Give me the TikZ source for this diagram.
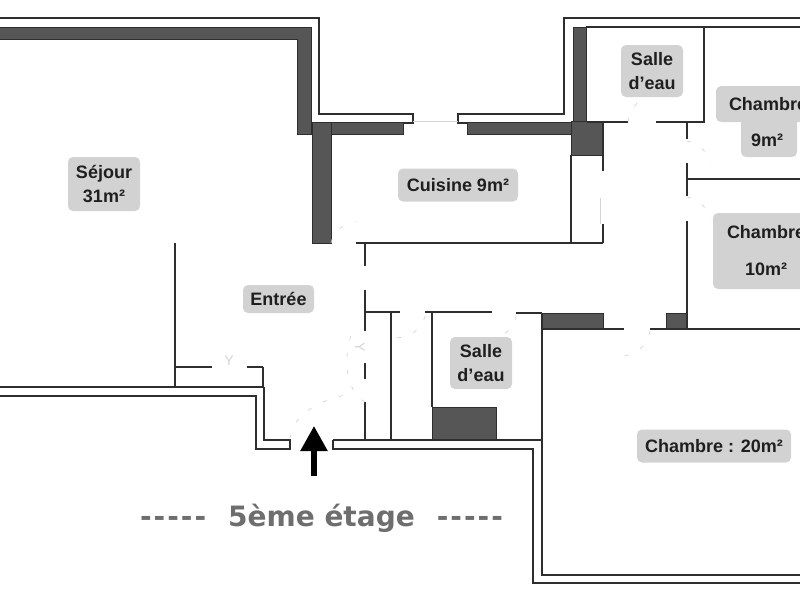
\documentclass[tikz,border=0pt]{standalone}
\usepackage{fontspec}
\setmainfont{Liberation Sans}
\newfontfamily\titlefont{DejaVu Sans}
\usepackage{xcolor}
\usetikzlibrary{positioning}
\usetikzlibrary{arrows.meta}

\definecolor{wallgray}{HTML}{565656}
\definecolor{linegray}{HTML}{2E2E2E}
\definecolor{tagfill}{HTML}{D2D2D2}
\definecolor{doorgray}{HTML}{D4D4D4}
\definecolor{titlegray}{HTML}{6E6E6E}

\tikzset{
  outerline/.style={draw=linegray, line width=1.1pt, line join=miter},
  partition/.style={draw=linegray, line width=1.7pt},
  wallblock/.style={fill=wallgray, draw=linegray, line width=0.9pt},
  doorswing/.style={draw=doorgray, line width=0.7pt, dash pattern=on 4pt off 13pt},
  roomtag/.style={fill=tagfill, rounded corners=5pt, inner sep=0pt, align=center,
    text=black!88, font=\fontsize{18}{24}\selectfont\bfseries},
  doormark/.style={text=doorgray, inner sep=0pt, font=\fontsize{14}{14}\selectfont}
}

\begin{document}
\begin{tikzpicture}[x=1pt,y=-1pt]
\useasboundingbox (0,0) rectangle (800,600);

% thick walls
\draw[wallblock] (0,27) -- (311,27) -- (311,134) -- (297,134) -- (297,39) -- (0,39);
\draw[wallblock] (311,122) rectangle (403,134);
\draw[wallblock] (312,122) rectangle (331,243);
\draw[wallblock] (467,122) rectangle (573,134);
\draw[wallblock] (573,27) rectangle (586,134);
\draw[wallblock] (571,121) rectangle (603,155);
\draw[wallblock] (432,407) rectangle (496,440);
\draw[wallblock] (542,313) rectangle (603,329);
\draw[wallblock] (666,313) rectangle (687,329);

% outer line
\draw[outerline] (0,18) -- (319,18) -- (319,114) -- (413,114) -- (413,123) -- (403,123);
\draw[outerline] (467,123) -- (458,123) -- (458,114) -- (564,114) -- (564,18) -- (800,18);
\draw[outerline] (0,396) -- (256,396) -- (256,449) -- (290,449) -- (290,440) -- (264,440) -- (264,387);
\draw[outerline] (800,583) -- (533,583) -- (533,449) -- (333,449) -- (333,440);
\draw[doorgray, line width=0.8pt] (413,121) -- (458,121);

% partitions
\draw[partition] (0,387) -- (264,387);
\draw[partition] (175,243) -- (175,387);
\draw[partition] (175,367) -- (212,367);
\draw[partition] (247,367) -- (263,367);
\draw[partition, line width=2.6pt] (263,367) -- (263,387);
\draw[partition] (333,440) -- (541,440);
\draw[partition] (356,243) -- (603,243);
\draw[partition] (365,243) -- (365,266);
\draw[partition] (365,290) -- (365,331);
\draw[partition] (365,363) -- (365,379);
\draw[partition] (365,402) -- (365,440);
\draw[partition] (365,312) -- (400,312);
\draw[partition] (391,312) -- (391,440);
\draw[partition] (425,312) -- (492,312);
\draw[partition] (516,313) -- (542,313);
\draw[partition] (432,312) -- (432,407);
\draw[partition] (542,313) -- (542,575) -- (800,575);
\draw[partition] (542,329) -- (624,329);
\draw[partition] (650,329) -- (800,329);
\draw[partition] (571,155) -- (571,243);
\draw[partition] (603,121) -- (603,171);
\draw[partition] (603,224) -- (603,243);
\draw[doorgray, line width=1pt] (600,198) -- (600,224);
\draw[partition] (586,27) -- (800,27);
\draw[partition] (587,122) -- (628,122);
\draw[partition] (656,122) -- (704,122) -- (704,27);
\draw[partition] (687,122) -- (687,139);
\draw[partition] (687,163) -- (687,196);
\draw[partition] (687,221) -- (687,329);
\draw[partition] (687,179) -- (800,179);

% doors
\draw[doorswing] (290,438) .. controls (294,415) and (315,402) .. (345,395);
\draw[doorswing] (365,402) .. controls (348,392) and (342,365) .. (351,335);
\draw[doorswing] (425,316) .. controls (422,330) and (410,337) .. (396,338);
\draw[doorswing] (516,316) .. controls (514,325) and (511,330) .. (505,333);
\draw[doorswing] (628,122) .. controls (630,112) and (634,106) .. (638,102);
\draw[doorswing] (687,141) .. controls (698,143) and (706,150) .. (711,163);
\draw[doorswing] (687,197) .. controls (698,199) and (706,206) .. (711,219);
\draw[doorswing] (650,331) .. controls (648,342) and (642,352) .. (624,356);
\draw[doorswing] (331,243) .. controls (333,232) and (342,224) .. (356,222);
\node[doormark] (markleft) at (229,361) {Y};
\node[doormark, rotate=-90] (markright) at (360,347) {Y};

% room tags
\node[roomtag, minimum width=72pt, minimum height=54pt] (sejour) at (104,184) {\raisebox{-1pt}{Séjour}\\\raisebox{-1pt}{31m²}};
\node[roomtag, minimum width=120pt, minimum height=33pt] (cuisine) at (458,185) {Cuisine 9m²};
\node[roomtag, minimum width=71pt, minimum height=28pt] (entree) at (278.5,299) {Entrée};
\node[roomtag, minimum width=62pt, minimum height=52pt] (salletop) at (652,71) {Salle\\d'eau};
\node[roomtag, minimum width=62pt, minimum height=52pt] (sallelow) at (481,363) {Salle\\d'eau};
\node[roomtag, minimum width=56pt, minimum height=50pt] (chamninelow) at (769,132) {};
\node[roomtag, minimum width=104pt, minimum height=36pt] (chamnine) at (768,104) {Chambre};
\node[roomtag, fill=none] (chamninearea) at (767,140) {9m²};
\node[roomtag, minimum width=106pt, minimum height=76pt] (chamten) at (766,251) {Chambre\\[13pt]10m²};
\node[roomtag, minimum width=154pt, minimum height=33pt] (chamtwenty) at (714,446) {Chambre : 20m²};

% title
\node[text=titlegray, inner sep=0pt, font=\titlefont\fontsize{28}{28}\selectfont\bfseries] (etage) at (321.5,518) {-\kern2pt-\kern2pt-\kern2pt-\kern2pt-\hspace{22pt}5ème étage\hspace{22pt}-\kern2pt-\kern2pt-\kern2pt-\kern2pt-};

% entrance arrow
\coordinate (arrowfoot) at (314,476);
\coordinate (arrowhead) at (314,426);
\draw[-{Triangle[length=25pt,width=26pt]}, line width=5.5pt, black] (arrowfoot) -- (arrowhead);
\end{tikzpicture}
\end{document}
